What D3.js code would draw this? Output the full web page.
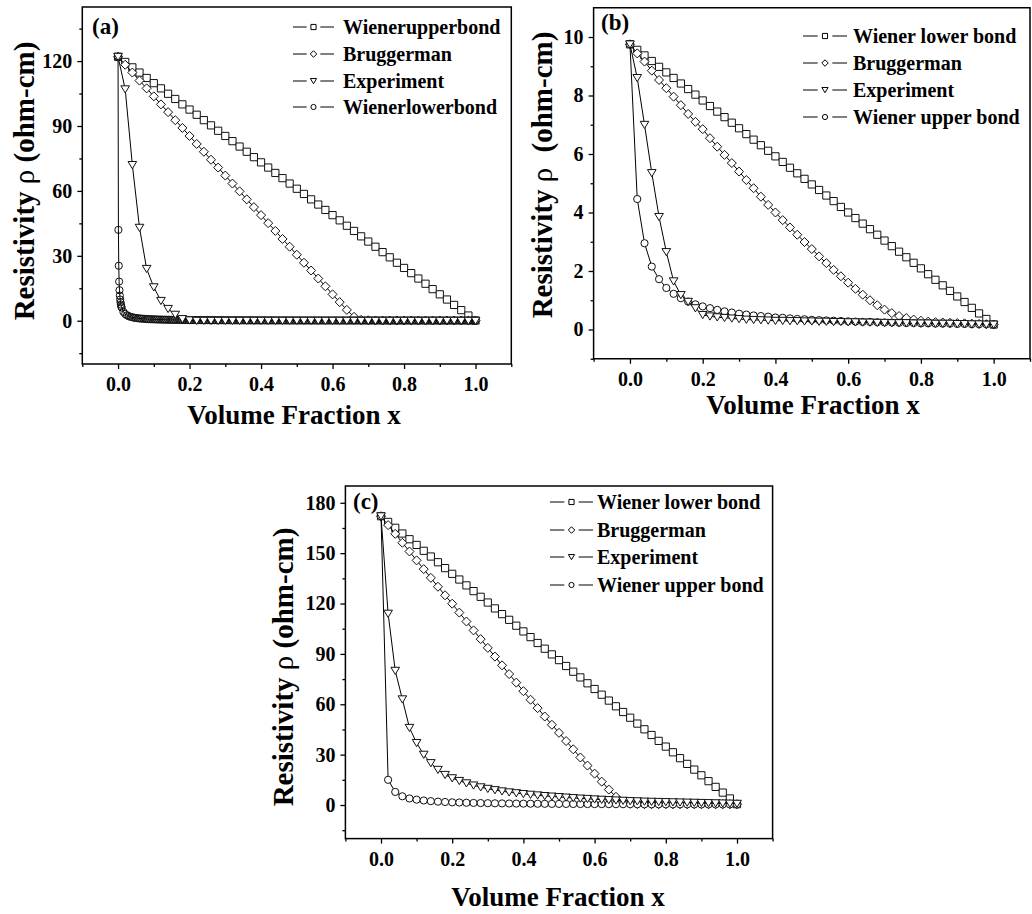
<!DOCTYPE html>
<html>
<head>
<meta charset="utf-8">
<style>
  body { margin: 0; background: #fff; }
  text { font-family: "Liberation Serif", "Times New Roman", serif; font-weight: bold; fill: #000; }
</style>
</head>
<body>
<svg id="chart" width="1032" height="914"></svg>
<script src="https://d3js.org/d3.v7.min.js"></script>
<script>
// volume fraction grid used by most series (step 0.02)
var xGrid = [0,0.02,0.04,0.06,0.08,0.1,0.12,0.14,0.16,0.18,0.2,0.22,0.24,0.26,0.28,0.3,0.32,0.34,0.36,0.38,
  0.4,0.42,0.44,0.46,0.48,0.5,0.52,0.54,0.56,0.58,0.6,0.62,0.64,0.66,0.68,0.7,0.72,0.74,0.76,0.78,
  0.8,0.82,0.84,0.86,0.88,0.9,0.92,0.94,0.96,0.98,1];

var xMajor = [0,0.2,0.4,0.6,0.8,1];
var xMinor = [-0.1,0.1,0.3,0.5,0.7,0.9,1.1];

// ---- panel (a)
var aNames = ["Wienerupperbond", "Bruggerman", "Experiment", "Wienerlowerbond"];
var aYMajor = [0,30,60,90,120];
var aYMinor = [-15,15,45,75,105,135];
var aUpper = [122,119.6,117.1,114.7,112.2,109.8,107.4,104.9,102.5,100,97.6,95.2,92.7,90.3,87.8,85.4,83,80.5,78.1,75.6,
  73.2,70.8,68.3,65.9,63.4,61,58.6,56.1,53.7,51.2,48.8,46.4,43.9,41.5,39,36.6,34.2,31.7,29.3,26.8,
  24.4,22,19.5,17.1,14.6,12.2,9.8,7.3,4.9,2.4,0.1];
var aBrugg = [122,118.3,114.7,111,107.4,103.7,100,96.4,92.7,89.1,85.4,81.7,78.1,74.4,70.8,67.1,63.4,59.8,56.1,52.5,
  48.8,45.1,41.5,37.8,34.2,30.5,26.8,23.2,19.5,15.9,12.2,8.6,5,1.8,0.4,0.2,0.1,0.1,0.1,0.1,
  0.1,0.1,0.1,0.1,0.1,0.1,0.1,0.1,0.1,0.1,0.1];
var aExp = [122,107,72,43,24,15.5,9.2,5.5,2.8,0.8,0.2,0,0,0,0,0,0,0,0,0,
  0,0,0,0,0,0,0,0,0,0,0,0,0,0,0,0,0,0,0,0,
  0,0,0,0,0,0,0,0,0,0,0];
var aLowerX = [0,0.001,0.002,0.003,0.004,0.005,0.006,0.007,0.008,0.009,
  0.01,0.015,0.02,0.025,0.03,0.035,0.04,0.045,0.05,0.055,
  0.06,0.065,0.07,0.075,0.08,0.085,0.09,0.095,0.1,0.105,
  0.11,0.115,0.12,0.125,0.13,0.135,0.14,0.145,0.15,0.155,
  0.16,0.165,0.17,0.175,0.18,0.185,0.19,0.195,0.2,0.205,
  0.21,0.215,0.22,0.225,0.23,0.235,0.24,0.245,0.25,0.255,
  0.26,0.265,0.27,0.275,0.28,0.285,0.29,0.295,0.3,0.305,
  0.31,0.315,0.32,0.325,0.33,0.335,0.34,0.345,0.35,0.355,
  0.36,0.365,0.37,0.375,0.38,0.385,0.39,0.395,0.4,0.405,
  0.41,0.415,0.42,0.425,0.43,0.435,0.44,0.445,0.45,0.455,
  0.46,0.465,0.47,0.475,0.48,0.485,0.49,0.495,0.5,0.505,
  0.51,0.515,0.52,0.525,0.53,0.535,0.54,0.545,0.55,0.555,
  0.56,0.565,0.57,0.575,0.58,0.585,0.59,0.595,0.6,0.605,
  0.61,0.615,0.62,0.625,0.63,0.635,0.64,0.645,0.65,0.655,
  0.66,0.665,0.67,0.675,0.68,0.685,0.69,0.695,0.7,0.705,
  0.71,0.715,0.72,0.725,0.73,0.735,0.74,0.745,0.75,0.755,
  0.76,0.765,0.77,0.775,0.78,0.785,0.79,0.795,0.8,0.805,
  0.81,0.815,0.82,0.825,0.83,0.835,0.84,0.845,0.85,0.855,
  0.86,0.865,0.87,0.875,0.88,0.885,0.89,0.895,0.9,0.905,
  0.91,0.915,0.92,0.925,0.93,0.935,0.94,0.945,0.95,0.955,
  0.96,0.965,0.97,0.975,0.98,0.985,0.99,0.995,1];
var aLower = [122,42,25.4,18.1,14.1,11.6,9.8,8.5,7.5,6.7,
  6.1,4.1,3.1,2.5,2.1,1.8,1.6,1.4,1.27,1.15,
  1.06,0.98,0.91,0.85,0.8,0.75,0.71,0.67,0.64,0.61,
  0.58,0.56,0.53,0.51,0.49,0.47,0.46,0.44,0.43,0.41,
  0.4,0.39,0.38,0.37,0.36,0.35,0.34,0.33,0.32,0.31,
  0.3,0.3,0.29,0.28,0.28,0.27,0.27,0.26,0.26,0.25,
  0.25,0.24,0.24,0.23,0.23,0.22,0.22,0.22,0.21,0.21,
  0.21,0.2,0.2,0.2,0.19,0.19,0.19,0.19,0.18,0.18,
  0.18,0.18,0.17,0.17,0.17,0.17,0.16,0.16,0.16,0.16,
  0.16,0.15,0.15,0.15,0.15,0.15,0.15,0.14,0.14,0.14,
  0.14,0.14,0.14,0.13,0.13,0.13,0.13,0.13,0.13,0.13,
  0.13,0.12,0.12,0.12,0.12,0.12,0.12,0.12,0.12,0.12,
  0.11,0.11,0.11,0.11,0.11,0.11,0.11,0.11,0.11,0.11,
  0.1,0.1,0.1,0.1,0.1,0.1,0.1,0.1,0.1,0.1,
  0.1,0.1,0.1,0.09,0.09,0.09,0.09,0.09,0.09,0.09,
  0.09,0.09,0.09,0.09,0.09,0.09,0.09,0.09,0.09,0.08,
  0.08,0.08,0.08,0.08,0.08,0.08,0.08,0.08,0.08,0.08,
  0.08,0.08,0.08,0.08,0.08,0.08,0.08,0.08,0.08,0.07,
  0.07,0.07,0.07,0.07,0.07,0.07,0.07,0.07,0.07,0.07,
  0.07,0.07,0.07,0.07,0.07,0.07,0.07,0.07,0.07,0.07,
  0.07,0.07,0.07,0.07,0.07,0.07,0.06,0.06,0.06];

// ---- panel (b)
var bNames = ["Wiener lower bond", "Bruggerman", "Experiment", "Wiener upper bond"];
var bYMajor = [0,2,4,6,8,10];
var bYMinor = [-1,1,3,5,7,9];
var bLower = [9.75,9.56,9.37,9.18,8.98,8.79,8.6,8.41,8.22,8.03,7.83,7.64,7.45,7.26,7.07,6.88,6.68,6.49,6.3,6.11,
  5.92,5.73,5.53,5.34,5.15,4.96,4.77,4.58,4.39,4.19,4,3.81,3.62,3.43,3.24,3.04,2.85,2.66,2.47,2.28,
  2.09,1.89,1.7,1.51,1.32,1.13,0.94,0.74,0.55,0.36,0.17];
var bBrugg = [9.75,9.44,9.16,8.85,8.53,8.25,7.96,7.67,7.37,7.1,6.85,6.54,6.25,5.97,5.69,5.4,5.11,4.83,4.54,4.26,
  4,3.74,3.49,3.24,2.99,2.75,2.5,2.27,2.04,1.82,1.6,1.39,1.19,1,0.83,0.68,0.56,0.46,0.39,0.34,
  0.3,0.27,0.25,0.24,0.23,0.22,0.21,0.2,0.19,0.18,0.17];
var bExp = [9.75,8.6,7,5.35,3.85,2.65,1.65,1.18,0.95,0.73,0.5,0.45,0.42,0.4,0.38,0.36,0.34,0.33,0.32,0.31,
  0.3,0.3,0.29,0.29,0.28,0.28,0.27,0.27,0.26,0.26,0.25,0.25,0.24,0.24,0.23,0.23,0.22,0.22,0.22,0.21,
  0.21,0.21,0.2,0.2,0.2,0.19,0.19,0.18,0.18,0.17,0.17];
var bUpper = [9.75,4.46,2.95,2.15,1.72,1.42,1.22,1.07,0.95,0.86,0.79,0.73,0.67,0.62,0.58,0.54,0.51,0.48,0.46,0.44,
  0.41,0.4,0.38,0.36,0.35,0.33,0.32,0.31,0.3,0.29,0.28,0.27,0.26,0.26,0.25,0.24,0.24,0.23,0.22,0.22,
  0.21,0.21,0.2,0.2,0.2,0.19,0.19,0.18,0.18,0.18,0.17];

// ---- panel (c)
var cNames = ["Wiener lower bond", "Bruggerman", "Experiment", "Wiener upper bond"];
var cYMajor = [0,30,60,90,120,150,180];
var cYMinor = [-15,15,45,75,105,135,165];
var cLower = [172,168.6,165.1,161.7,158.3,154.9,151.4,148,144.6,141.1,137.7,134.3,130.8,127.4,124,120.6,117.1,113.7,110.3,106.8,
  103.4,100,96.5,93.1,89.7,86.3,82.8,79.4,76,72.5,69.1,65.7,62.2,58.8,55.4,52,48.5,45.1,41.7,38.2,
  34.8,31.4,27.9,24.5,21.1,17.7,14.2,10.8,7.4,3.9,0.5];
var cBrugg = [172,166.7,161.5,156.2,151,145.7,140.5,135.3,130,124.9,119.9,114.6,109.3,104,98.8,93.6,88.4,83.2,78,72.9,
  67.8,62.7,57.7,52.7,47.8,43,38.1,33.2,28.3,23.5,18.7,13.9,9.2,4.9,1.9,0.8,0.6,0.5,0.5,0.5,
  0.5,0.5,0.5,0.5,0.5,0.5,0.5,0.5,0.5,0.5,0.5];
var cExp = [172,114,80,63,46,37,30,25,21,18,16,14.4,13,11.7,10.6,9.7,8.9,8.2,7.6,7.1,
  6.6,6.2,5.8,5.4,5.1,4.8,4.5,4.2,3.9,3.7,3.4,3.2,3,2.8,2.6,2.4,2.3,2.1,2,1.9,
  1.8,1.7,1.6,1.5,1.4,1.3,1.2,1.1,1,0.9,0.8];
var cUpper = [172,15,7.8,5.2,3.9,3.2,2.7,2.3,2,1.8,1.6,1.5,1.35,1.25,1.17,1.09,1.02,0.96,0.91,0.86,
  0.82,0.78,0.75,0.71,0.68,0.66,0.63,0.61,0.59,0.57,0.55,0.53,0.51,0.5,0.48,0.47,0.46,0.44,0.43,0.42,
  0.41,0.4,0.39,0.38,0.37,0.36,0.36,0.35,0.34,0.34,0.33];

var FONT = '"Liberation Serif", "Times New Roman", serif';
var svg = d3.select("#chart");
svg.append("rect").attr("width", 1032).attr("height", 914).attr("fill", "#fff");

// marker shapes, centred on the point
function shape(type, k) {
  var s = 3.6 * k;
  if (type === "square") return "M" + (-s) + "," + (-s) + "h" + 2 * s + "v" + 2 * s + "h" + (-2 * s) + "Z";
  if (type === "diamond") { var d = s * 1.25; return "M0," + (-d) + "L" + d + ",0L0," + d + "L" + (-d) + ",0Z"; }
  if (type === "triangle") return "M" + (-s * 1.2) + "," + (-s * 0.95) + "L" + (s * 1.2) + "," + (-s * 0.95) + "L0," + (s * 1.05) + "Z";
  return d3.symbol().type(d3.symbolCircle).size(Math.PI * s * s)();
}

function drawPanel(p) {
  var g = svg.append("g");
  var x = d3.scaleLinear().domain([-0.1, 1.1]).range([p.left, p.right]);
  var y = d3.scaleLinear().domain(p.yDomain).range([p.bottom, p.top]);

  // axes
  var xa = g.append("g").attr("transform", "translate(0," + p.bottom + ")")
    .call(d3.axisBottom(x).tickValues(xMajor).tickSize(5).tickSizeOuter(0).tickPadding(8).tickFormat(d3.format(".1f")));
  var xm = g.append("g").attr("transform", "translate(0," + p.bottom + ")")
    .call(d3.axisBottom(x).tickValues(xMinor).tickSize(3).tickSizeOuter(0).tickFormat(""));
  var ya = g.append("g").attr("transform", "translate(" + p.left + ",0)")
    .call(d3.axisLeft(y).tickValues(p.yMajor).tickSize(5).tickSizeOuter(0).tickPadding(5).tickFormat(d3.format("d")));
  var ym = g.append("g").attr("transform", "translate(" + p.left + ",0)")
    .call(d3.axisLeft(y).tickValues(p.yMinor).tickSize(3).tickSizeOuter(0).tickFormat(""));
  [xa, xm, ya, ym].forEach(function(a) {
    a.attr("font-family", null).attr("font-size", null);
    a.select(".domain").remove();
    a.selectAll("line").attr("stroke", "#000").attr("stroke-width", 1.3);
    a.selectAll("text")
      .style("font-family", FONT).style("font-weight", "bold")
      .style("font-size", "20px").attr("fill", "#000");
  });

  g.append("rect")
    .attr("x", p.left).attr("y", p.top)
    .attr("width", p.right - p.left).attr("height", p.bottom - p.top)
    .attr("fill", "none").attr("stroke", "#000").attr("stroke-width", 1.5);

  // series: line first, then open markers
  var line = d3.line().x(function(d) { return x(d[0]); }).y(function(d) { return y(d[1]); });
  p.series.forEach(function(s) {
    var pts = s.x.map(function(v, i) { return [v, s.y[i]]; });
    g.append("path").datum(pts).attr("d", line)
      .attr("fill", "none").attr("stroke", "#000").attr("stroke-width", 1);
    g.append("g").selectAll("path").data(pts).enter().append("path")
      .attr("transform", function(d) { return "translate(" + x(d[0]) + "," + y(d[1]) + ")"; })
      .attr("d", shape(s.m, 1))
      .attr("fill", s.fill || "#fff").attr("stroke", "#111").attr("stroke-width", 1);
  });

  // legend
  var marks = ["square", "diamond", "triangle", "circle"];
  p.names.forEach(function(name, i) {
    var ry = p.leg.rows[i], lx = p.leg.x, w = p.leg.w;
    g.append("line").attr("x1", lx).attr("x2", lx + w / 3).attr("y1", ry).attr("y2", ry).attr("stroke", "#000").attr("stroke-width", 1);
    g.append("line").attr("x1", lx + 2 * w / 3).attr("x2", lx + w).attr("y1", ry).attr("y2", ry).attr("stroke", "#000").attr("stroke-width", 1);
    g.append("path").attr("transform", "translate(" + (lx + w / 2) + "," + ry + ")")
      .attr("d", shape(marks[i], 0.72)).attr("fill", "#fff").attr("stroke", "#000").attr("stroke-width", 1);
    g.append("text").attr("x", p.leg.tx).attr("y", ry + 6.5).style("font-size", "20px").text(name);
  });

  // panel letter
  g.append("text").attr("x", p.tag[0]).attr("y", p.tag[1]).style("font-size", "23px").text(p.tagText);

  // axis titles
  g.append("text").attr("x", p.xt[0]).attr("y", p.xt[1]).attr("text-anchor", "middle")
    .style("font-size", "27px").text("Volume Fraction x");
  var yt = g.append("text").attr("text-anchor", "middle").style("font-size", "29px")
    .attr("transform", "translate(" + p.yt[0] + "," + p.yt[1] + ") rotate(-90)");
  yt.append("tspan").text("Resistivity ");
  yt.append("tspan").style("font-weight", "normal").text("\u03c1");
  yt.append("tspan").attr("dx", p.ytGap).text(" (ohm-cm)");
}

drawPanel({
  left: 82.3, right: 511.3, top: 7, bottom: 364, yDomain: [-20, 145],
  yMajor: aYMajor, yMinor: aYMinor, names: aNames,
  series: [
    {x: xGrid, y: aUpper, m: "square"},
    {x: xGrid, y: aBrugg, m: "diamond"},
    {x: aLowerX, y: aLower, m: "circle", fill: "none"},
    {x: xGrid, y: aExp, m: "triangle"}
  ],
  leg: {x: 293, w: 41, tx: 343, rows: [27, 54, 81, 107]},
  tag: [92, 34], tagText: "(a)",
  xt: [294, 424], yt: [34, 181], ytGap: 0
});

drawPanel({
  left: 593.6, right: 1030, top: 7.75, bottom: 358.75, yDomain: [-1, 11],
  yMajor: bYMajor, yMinor: bYMinor, names: bNames,
  series: [
    {x: xGrid, y: bLower, m: "square"},
    {x: xGrid, y: bBrugg, m: "diamond"},
    {x: xGrid, y: bUpper, m: "circle"},
    {x: xGrid, y: bExp, m: "triangle"}
  ],
  leg: {x: 803, w: 44, tx: 853, rows: [36, 63, 90, 117]},
  tag: [601, 30], tagText: "(b)",
  xt: [813, 414], yt: [552, 175], ytGap: 8
});

drawPanel({
  left: 345.4, right: 772.6, top: 486, bottom: 838.6, yDomain: [-20, 190],
  yMajor: cYMajor, yMinor: cYMinor, names: cNames,
  series: [
    {x: xGrid, y: cLower, m: "square"},
    {x: xGrid, y: cBrugg, m: "diamond"},
    {x: xGrid, y: cUpper, m: "circle"},
    {x: xGrid, y: cExp, m: "triangle"}
  ],
  leg: {x: 550, w: 43, tx: 597, rows: [502, 530, 557, 585]},
  tag: [353, 509], tagText: "(c)",
  xt: [558, 906], yt: [293, 667], ytGap: 0
});
</script>
</body>
</html>
